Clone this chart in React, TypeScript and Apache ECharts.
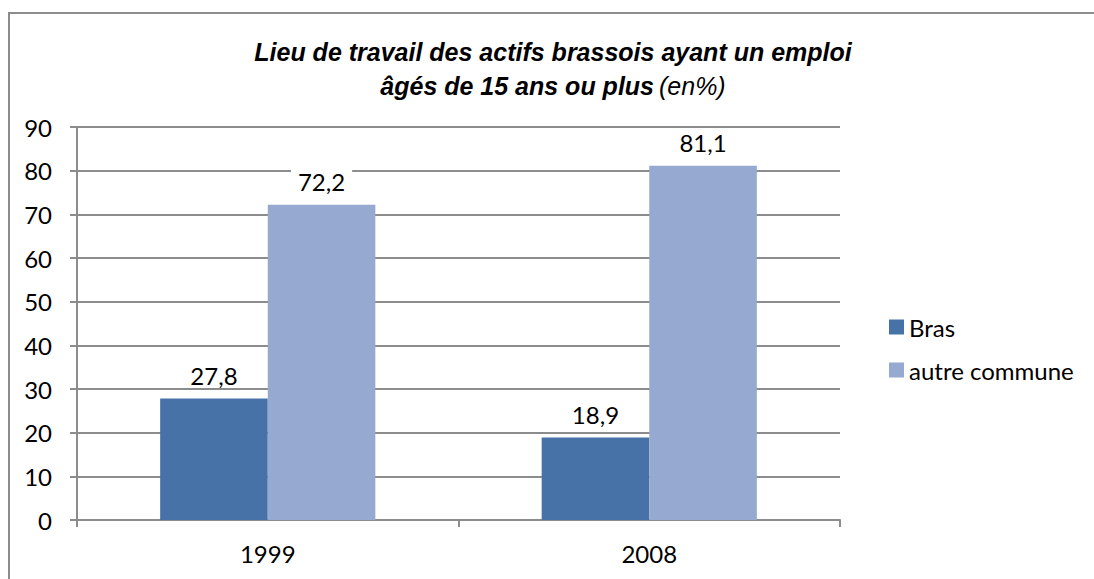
import React, { useEffect, useRef } from "react";
import * as echarts from "echarts";

const categories = ["1999", "2008"];
const brasValues = [27.8, 18.9];
const autreValues = [72.2, 81.1];
const seriesNames = ["Bras", "autre commune"];
const titleLine1 = "Lieu de travail des actifs brassois ayant un emploi";
const titleLine2 = "âgés de 15 ans ou plus";
const titleUnit = "(en%)";

const FONT = "Lato";
const FS = 24;
const GRAY = "#8c8c8c";

export default function App() {
  const ref = useRef<HTMLDivElement>(null);
  useEffect(() => {
    document.body.style.margin = "0";
    const chart = echarts.init(ref.current!, null, { renderer: "svg" });
    const fmt = (p: any) => String(p.value).replace(".", ",");
    const labelStyle = {
      show: true,
      position: "top",
      distance: 11,
      formatter: fmt,
      fontFamily: FONT,
      fontSize: FS,
      color: "#000",
      backgroundColor: "#fff",
      padding: [0, 7],
    };
    chart.setOption({
      animation: false,
      backgroundColor: "#ffffff",
      graphic: [
        {
          type: "rect",
          shape: { x: 9, y: 13, width: 1200, height: 700 },
          style: { fill: "none", stroke: GRAY, lineWidth: 2 },
          silent: true,
        },
      ],
      title: {
        text: `{b|${titleLine1}}\n{b|${titleLine2}} {n|${titleUnit}}`,
        left: 548,
        top: 30,
        textAlign: "center",
        textStyle: {
          rich: {
            b: {
              fontFamily: "Liberation Sans",
              fontStyle: "italic",
              fontWeight: "bold",
              fontSize: 25,
              color: "#000",
              lineHeight: 34,
            },
            n: {
              fontFamily: "Liberation Sans",
              fontStyle: "italic",
              fontWeight: "normal",
              fontSize: 25,
              color: "#000",
              lineHeight: 34,
            },
          },
        },
      },
      legend: {
        orient: "vertical",
        left: 884,
        top: 310,
        itemWidth: 15,
        itemHeight: 15,
        itemGap: 19,
        icon: "rect",
        textStyle: { fontFamily: FONT, fontSize: FS, color: "#000" },
        data: seriesNames,
      },
      grid: { left: 77, right: 254, top: 127, bottom: 59 },
      xAxis: {
        type: "category",
        data: categories,
        axisLine: { lineStyle: { color: GRAY, width: 2 } },
        axisTick: { show: true, length: 7, lineStyle: { color: GRAY, width: 2 } },
        axisLabel: { fontFamily: FONT, fontSize: FS, color: "#000", margin: 21 },
      },
      yAxis: {
        type: "value",
        min: 0,
        max: 90,
        interval: 10,
        axisLine: { show: true, lineStyle: { color: GRAY, width: 2 } },
        axisTick: { show: true, length: 7, lineStyle: { color: GRAY, width: 2 } },
        splitLine: { lineStyle: { color: GRAY, width: 2 } },
        axisLabel: { fontFamily: FONT, fontSize: FS, color: "#000", margin: 25 },
      },
      series: [
        {
          name: seriesNames[0],
          type: "bar",
          data: brasValues,
          itemStyle: { color: "#4672a7" },
          barGap: "0%",
          barCategoryGap: "43.6%",
          label: labelStyle,
        },
        {
          name: seriesNames[1],
          type: "bar",
          data: autreValues,
          itemStyle: { color: "#95a9d1" },
          label: labelStyle,
        },
      ],
    });
    return () => chart.dispose();
  }, []);
  return <div ref={ref} style={{ width: 1094, height: 579 }} />;
}
